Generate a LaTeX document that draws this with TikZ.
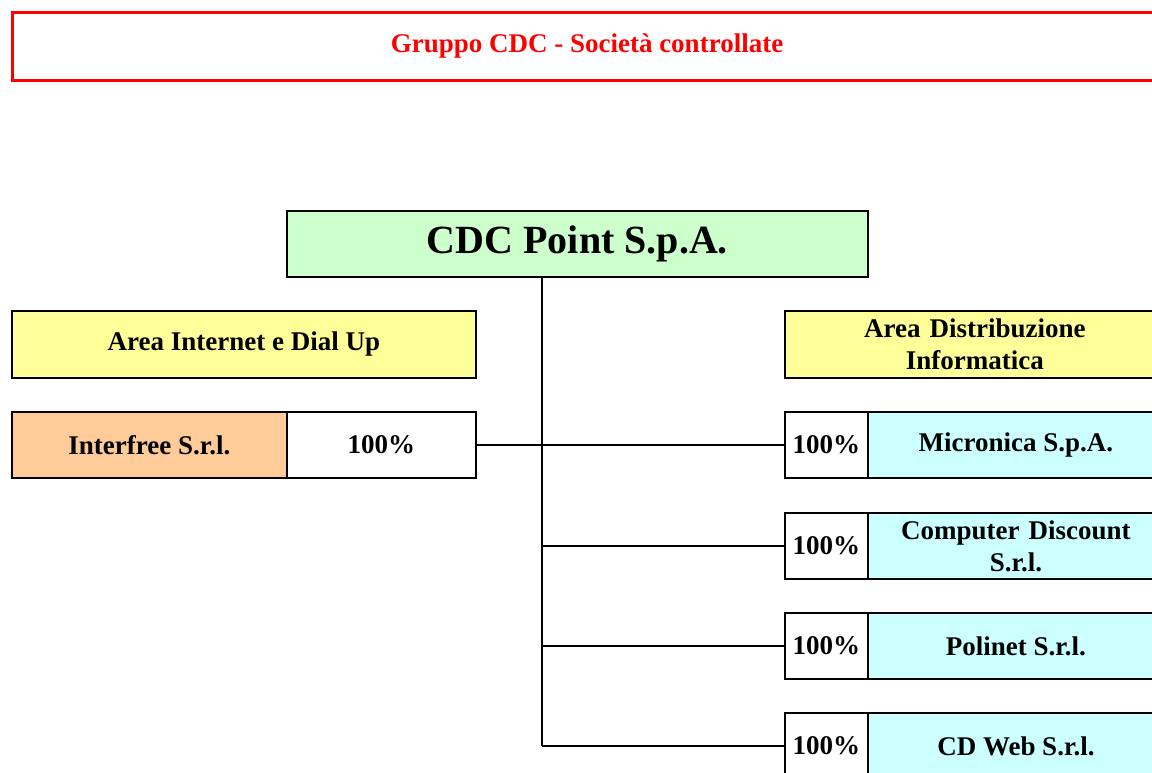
\documentclass[tikz,border=0pt]{standalone}
\usepackage{fontspec}
\setmainfont{Liberation Serif}
\definecolor{cdcgreen}{HTML}{CCFFCC}
\definecolor{areayellow}{HTML}{FFFF99}
\definecolor{iforange}{HTML}{FFCC99}
\definecolor{subcyan}{HTML}{CCFFFF}
\definecolor{titlered}{HTML}{FF0000}
\begin{document}
\begin{tikzpicture}[x=1pt,y=-1pt,
  box/.style={draw=black, line width=1.8pt, inner sep=0pt, align=center, anchor=north west,
    font=\bfseries\fontsize{27}{32}\selectfont},
  pct/.style={box, fill=white, minimum height=66},
  sub/.style={box, fill=subcyan, minimum width=296, minimum height=66},
  link/.style={draw=black, line width=1.8pt}]
\useasboundingbox (0,0) rectangle (1152,773);
\clip (0,0) rectangle (1152,773);
\fill[white] (0,0) rectangle (1152,773);

\node[draw=titlered, line width=3pt, anchor=north west, minimum width=1150, minimum height=68, inner sep=0pt] (title) at (11,11) {};
\node[text=titlered, font=\bfseries\fontsize{27}{32}\selectfont] (titletext) at (587,46) {Gruppo CDC - Società controllate};

\node[box, fill=cdcgreen, minimum width=581, minimum height=66, font=\bfseries\fontsize{40}{46}\selectfont] (cdc) at (286,210) {CDC Point S.p.A.};

\node[box, fill=areayellow, minimum width=464, minimum height=67] (areaint) at (11,310) {Area Internet e Dial Up};
\node[box, fill=areayellow, minimum width=380, minimum height=67, text width=380] (areadist) at (784,310) {Area Distribuzione\\Informatica};

\node[box, fill=iforange, minimum width=275, minimum height=66] (interfree) at (11,411) {Interfree S.r.l.};
\node[pct, minimum width=189] (ifp) at (286,411) {100\%};

\node[pct, minimum width=83] (mp) at (784,411) {100\%};
\node[sub] (micronica) at (867,411) {Micronica S.p.A.};
\node[pct, minimum width=83] (cp) at (784,512) {100\%};
\node[sub, text width=296] (computer) at (867,512) {Computer Discount\\S.r.l.};
\node[pct, minimum width=83] (pp) at (784,612) {100\%};
\node[sub] (polinet) at (867,612) {Polinet S.r.l.};
\node[pct, minimum width=83] (wp) at (784,712) {100\%};
\node[sub] (cdweb) at (867,712) {CD Web S.r.l.};

\coordinate (trunk) at (542,276);
\draw[link] (trunk) -- (trunk |- wp.west);
\draw[link] (ifp.east) -- (mp.west);
\draw[link] (trunk |- cp.west) -- (cp.west);
\draw[link] (trunk |- pp.west) -- (pp.west);
\draw[link] (trunk |- wp.west) -- (wp.west);
\end{tikzpicture}
\end{document}
